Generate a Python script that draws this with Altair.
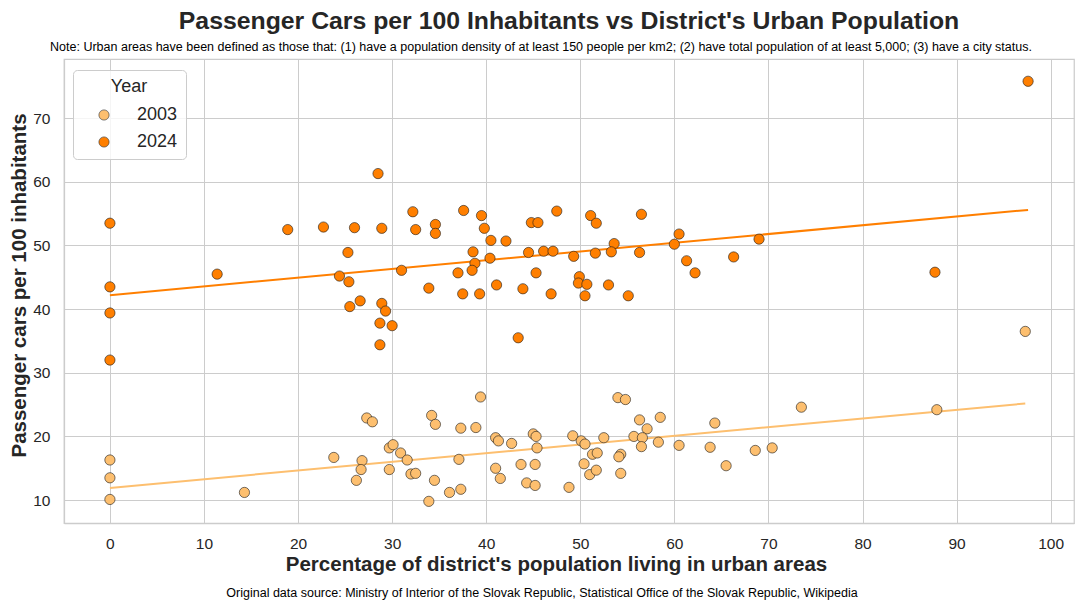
import altair as alt
import pandas as pd

years = ["2003", "2024"]
colors = ["#fdbf6f", "#ff7f00"]

x2003 = [0, 0, 0, 14.3, 23.8, 27.3, 27.9, 26.8, 26.7, 26.2, 29.7, 30.1, 30.9, 31.6, 29.7,
         32.0, 32.5, 34.2, 34.6, 34.5, 33.9, 36.1, 37.3, 37.1, 37.3, 38.9, 39.4, 41.0, 41.3, 42.7,
         41.0, 41.5, 43.7, 44.3, 45.0, 45.3, 45.4, 45.2, 45.2, 48.8, 49.2, 50.1, 50.5, 51.3, 51.8,
         50.4, 51.0, 51.7, 52.5, 54.0, 54.8, 56.3, 57.1, 58.5, 55.7, 56.6, 56.5, 58.3, 54.3,
         54.1, 54.3, 60.5, 63.8, 64.3, 65.5, 68.6, 70.4, 73.5, 87.9, 97.3]
y2003 = [16.3, 13.5, 10.1, 11.2, 16.7, 22.9, 22.3, 16.2, 14.8, 13.1, 18.2, 18.7, 17.4, 16.3, 14.8,
         14.1, 14.2, 23.3, 21.9, 13.1, 9.8, 11.2, 11.7, 16.4, 21.3, 21.4, 26.2, 19.8, 19.3, 18.9,
         15.0, 13.4, 15.6, 12.7, 20.4, 20.0, 18.2, 15.6, 12.3, 12.0, 20.1, 19.3, 18.8, 17.2, 17.4,
         15.7, 14.0, 14.7, 19.8, 26.1, 25.8, 22.6, 21.2, 23.0, 20.0, 19.8, 18.4, 19.1, 17.2,
         16.8, 14.2, 18.6, 18.3, 22.1, 15.4, 17.8, 18.2, 24.6, 24.2, 36.5]

x2024 = [0, 0, 0, 0, 11.4, 18.9, 22.7, 24.4, 28.5, 26.0, 28.9, 32.2, 32.5, 34.6, 34.6,
         37.6, 39.5, 39.8, 40.5, 42.1, 44.8, 45.5, 47.5, 51.1, 51.7, 53.6, 25.3, 25.4, 31.0, 25.5,
         26.6, 28.9, 29.3, 28.7, 30.0, 28.7, 33.9, 37.0, 38.6, 38.8, 38.5, 40.4, 37.5, 39.3, 41.1,
         43.9, 43.4, 44.5, 46.1, 47.1, 45.3, 46.9, 49.3, 49.9, 49.8, 50.7, 50.5, 51.6, 53.0, 56.5,
         53.3, 56.3, 55.1, 60.5, 60.0, 61.3, 62.2, 66.3, 69.0, 87.7, 97.6]
y2024 = [53.5, 43.5, 39.4, 32.0, 45.5, 52.5, 52.9, 45.2, 61.3, 52.8, 52.7, 55.3, 52.5, 53.3, 51.9,
         55.5, 54.7, 52.7, 50.8, 50.7, 53.6, 53.6, 55.4, 54.7, 53.5, 50.3, 48.9, 44.3, 46.1, 40.4,
         41.3, 40.9, 39.7, 37.8, 37.4, 34.4, 43.3, 45.7, 49.0, 47.2, 46.1, 48.0, 42.4, 42.4, 43.8,
         43.2, 35.5, 48.9, 49.1, 49.1, 45.7, 42.4, 48.3, 45.1, 44.1, 43.9, 42.1, 48.8, 43.8, 54.9,
         49.0, 48.9, 42.1, 51.8, 50.2, 47.6, 45.7, 48.2, 51.0, 45.8, 75.8]

x_ticks = [0, 10, 20, 30, 40, 50, 60, 70, 80, 90, 100]
y_ticks = [10, 20, 30, 40, 50, 60, 70]

title = "Passenger Cars per 100 Inhabitants vs District's Urban Population"
note = ("Note: Urban areas have been defined as those that: (1) have a population density of at least "
        "150 people per km2; (2) have total population of at least 5,000; (3) have a city status.")
source = "Original data source: Ministry of Interior of the Slovak Republic, Statistical Office of the Slovak Republic, Wikipedia"

df = pd.concat([
    pd.DataFrame({"urban": x2003, "cars": y2003, "Year": "2003"}),
    pd.DataFrame({"urban": x2024, "cars": y2024, "Year": "2024"}),
], ignore_index=True)

W, H = 1010, 464
FONT = "Liberation Sans"

xs = alt.Scale(domain=[-4.88, 102.48], nice=False, zero=False)
ys = alt.Scale(domain=[6.4, 79.3], nice=False, zero=False)
cs = alt.Scale(domain=years, range=colors)

base = alt.Chart(df)

lines = base.transform_regression(
    "urban", "cars", groupby=["Year"]
).mark_line(strokeWidth=2, clip=True).encode(
    x=alt.X("urban:Q", scale=xs),
    y=alt.Y("cars:Q", scale=ys),
    color=alt.Color("Year:N", scale=cs, legend=None),
)

points = base.mark_point(filled=True, size=105, stroke="#1a1a1a", strokeWidth=0.6, opacity=1).encode(
    x=alt.X("urban:Q", scale=xs,
            axis=alt.Axis(values=x_ticks, title="Percentage of district's population living in urban areas",
                          titlePadding=3, labelPadding=13, titleX=492)),
    y=alt.Y("cars:Q", scale=ys,
            axis=alt.Axis(values=y_ticks, title="Passenger cars per 100 inhabitants",
                          titlePadding=3, labelPadding=14, titleY=226)),
    color=alt.Color("Year:N", scale=cs,
                    legend=alt.Legend(title="Year", orient="none", legendX=9, legendY=11,
                                      titleAnchor="middle", titleFontSize=18, titleFontWeight="normal",
                                      labelFontSize=18, symbolSize=105, symbolStrokeColor="#333333",
                                      symbolStrokeWidth=0.6, symbolType="circle", labelOffset=24,
                                      symbolOffset=14, rowPadding=9,
                                      padding=8, titlePadding=10, fillColor="rgba(255,255,255,0.8)",
                                      strokeColor="#cccccc", cornerRadius=4,
                                      symbolOpacity=1)),
    order=alt.Order("Year:N"),
)

title_layer = alt.Chart(pd.DataFrame({"t": [title]})).mark_text(
    fontSize=24.8, font=FONT, fontWeight="bold", color="#262626", align="center", baseline="middle"
).encode(text="t:N", x=alt.value(W / 2), y=alt.value(-37))

note_layer = alt.Chart(pd.DataFrame({"t": [note]})).mark_text(
    fontSize=12.5, font=FONT, color="black", align="center", baseline="middle"
).encode(text="t:N", x=alt.value(477), y=alt.value(-12))

source_layer = alt.Chart(pd.DataFrame({"t": [source]})).mark_text(
    fontSize=12.5, font=FONT, color="black", align="center", baseline="middle"
).encode(text="t:N", x=alt.value(478), y=alt.value(534))

chart = alt.layer(lines, points, title_layer, note_layer, source_layer).resolve_legend(
    color="independent"
).properties(
    width=W, height=H,
    autosize=alt.AutoSizeParams(type="none"),
    padding={"left": 56, "top": 51, "right": 2, "bottom": 80},
).configure_view(
    stroke="#cccccc", strokeWidth=1.25
).configure_axis(
    grid=True, gridColor="#cccccc", gridWidth=1,
    domainColor="#cccccc", domainWidth=1.25, ticks=False,
    labelFont=FONT, labelFontSize=15.5, labelColor="#262626",
    titleFont=FONT, titleFontSize=20.5, titleFontWeight="bold", titleColor="#262626",
).configure_legend(
    titleFont=FONT, labelFont=FONT, titleColor="#262626", labelColor="#262626",
)

chart.save("out.html", embed_options={"renderer": "svg", "actions": False})
